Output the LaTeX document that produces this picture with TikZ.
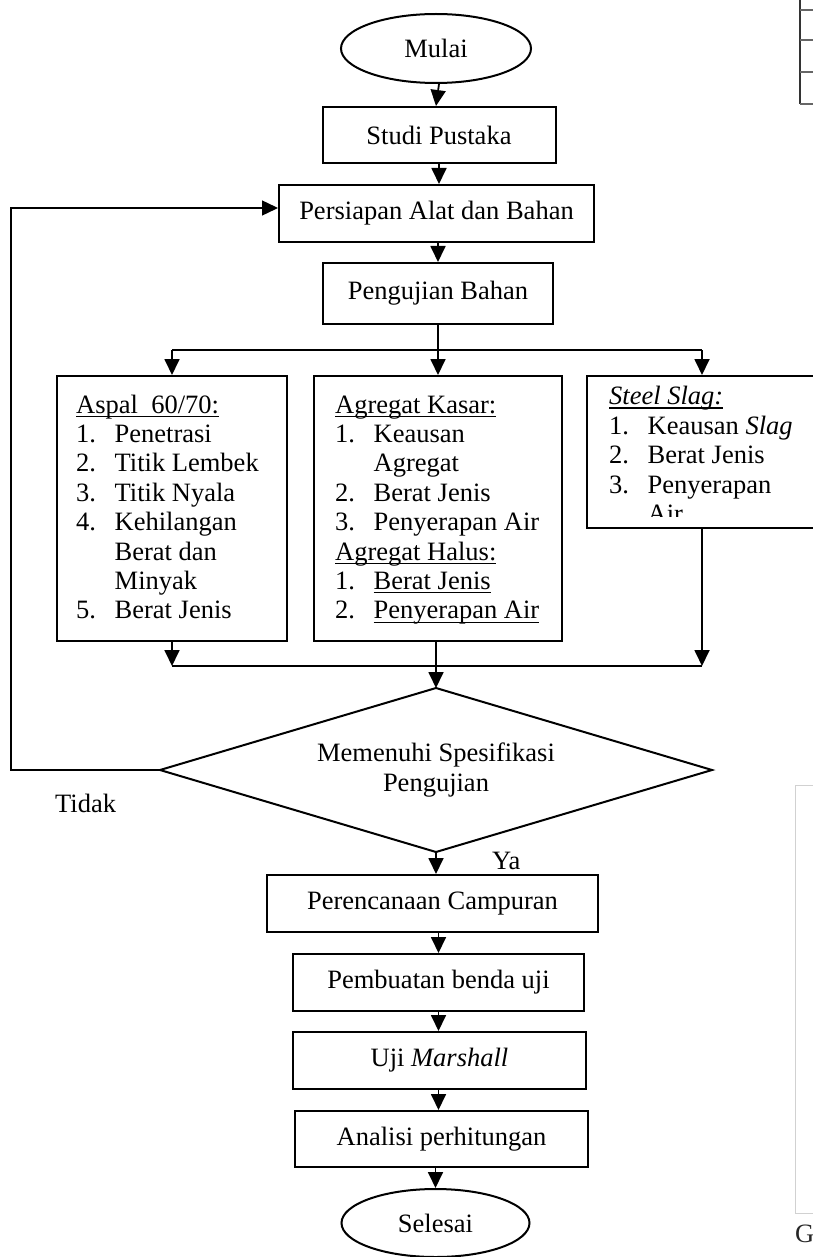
\documentclass[tikz,border=0pt]{standalone}
\usepackage{fontspec}
\setmainfont{Liberation Serif}
\usetikzlibrary{arrows.meta,shapes.geometric}
\newcommand\myul[1]{\setbox0\hbox{#1}\rlap{\rule[-4pt]{\wd0}{1.3pt}}\box0}
\newcommand\num[1]{\makebox[38.5pt][l]{#1}}
\begin{document}
\begin{tikzpicture}[x=1pt,y=-1pt,
  every node/.style={font=\fontsize{26.5}{29.5}\selectfont},
  box/.style={draw, line width=2pt, rectangle, inner sep=0pt},
  term/.style={draw, line width=2pt, ellipse, inner sep=0pt},
  arr/.style={line width=1.8pt, -{Triangle[width=15pt,length=16pt]}},
  ln/.style={line width=1.8pt},
  thinln/.style={line width=1.4pt},
  item/.style={anchor=base west, inner sep=0pt},
]
\useasboundingbox (0,0) rectangle (813,1257);
% main column
\node[term, minimum width=190pt, minimum height=69pt] (mulai) at (436,48.5) {Mulai};
\node[box, minimum width=233pt, minimum height=56pt] (studi) at (439,135) {Studi Pustaka};
\node[box, minimum width=315pt, minimum height=57pt] (persiapan) at (436.5,213.5) {Persiapan Alat dan Bahan};
\node[box, minimum width=230pt, minimum height=61pt] (uji) at (438,293.5) {Pengujian Bahan};
% three test boxes
\node[box, minimum width=230pt, minimum height=265pt] (aspal) at (172,508.5) {};
\node[box, minimum width=248pt, minimum height=265pt] (agregat) at (438,508.5) {};
\node[box, minimum width=230pt, minimum height=152pt] (steel) at (702,452) {};
% decision
\coordinate (decT) at (436,688);
\coordinate (decB) at (436,852);
\coordinate (decL) at (160,770);
\coordinate (decR) at (712,770);
\draw[line width=2pt, line join=miter] (decT) -- (decR) -- (decB) -- (decL) -- cycle;
\node[align=center, inner sep=0pt] (dec) at (436,770) {Memenuhi Spesifikasi\\Pengujian};
% lower column
\node[box, minimum width=331pt, minimum height=57pt] (perenc) at (432.5,903.5) {Perencanaan Campuran};
\node[box, minimum width=291pt, minimum height=57pt] (pemb) at (438.5,982.5) {Pembuatan benda uji};
\node[box, minimum width=293pt, minimum height=57pt] (marsh) at (439.5,1060.5) {Uji \textit{Marshall}};
\node[box, minimum width=293pt, minimum height=56pt] (anal) at (441.5,1139) {Analisi perhitungan};
\node[term, minimum width=188pt, minimum height=68pt] (selesai) at (435.5,1223) {Selesai};
% list texts: Aspal
\node[item] (a0) at (76,413) {\myul{Aspal\ \ 60/70:}};
\node[item] (a1) at (76,442.4) {\num{1.}Penetrasi};
\node[item] (a2) at (76,471.8) {\num{2.}Titik Lembek};
\node[item] (a3) at (76,501.2) {\num{3.}Titik Nyala};
\node[item] (a4) at (76,530.6) {\num{4.}Kehilangan};
\node[item] (a5) at (76,560) {\num{}Berat dan};
\node[item] (a6) at (76,589.4) {\num{}Minyak};
\node[item] (a7) at (76,618.8) {\num{5.}Berat Jenis};
% Agregat
\node[item] (g0) at (335,413) {\myul{Agregat Kasar:}};
\node[item] (g1) at (335,442.4) {\num{1.}Keausan};
\node[item] (g2) at (335,471.8) {\num{}Agregat};
\node[item] (g3) at (335,501.2) {\num{2.}Berat Jenis};
\node[item] (g4) at (335,530.6) {\num{3.}Penyerapan Air};
\node[item] (g5) at (335,560) {\myul{Agregat Halus:}};
\node[item] (g6) at (335,589.4) {\num{1.}\myul{Berat Jenis}};
\node[item] (g7) at (335,618.8) {\num{2.}\myul{Penyerapan Air}};
% Steel slag
\node[item] (s0) at (609,404.5) {\myul{\textit{Steel Slag:}}};
\node[item] (s1) at (609,434) {\num{1.}Keausan \textit{Slag}};
\node[item] (s2) at (609,463.5) {\num{2.}Berat Jenis};
\node[item] (s3) at (609,493) {\num{3.}Penyerapan};
\begin{scope}
\clip (590,380) rectangle (813,516);
\node[item] (s4) at (609,522.5) {\num{}Air};
\end{scope}
% labels
\node[item] (tidak) at (55,812) {Tidak};
\node[item] (ya) at (492,869) {Ya};
% connectors
\coordinate (br) at (438,350);
\coordinate (brL) at (172,350);
\coordinate (brR) at (702,350);
\coordinate (mL) at (172,666);
\coordinate (mR) at (702,666);
\coordinate (fbB) at (11,770);
\coordinate (fbT) at (11,208);
\draw[arr] (mulai.south -| studi.north) -- (studi.north -| mulai.south);
\draw[arr] (studi.south) -- (studi.south |- persiapan.north);
\draw[arr] (uji.north |- persiapan.south) -- (uji.north);
\draw[ln] (uji.south) -- (br);
\draw[thinln] (brL) -- (brR);
\draw[arr] (brL) -- (aspal.north);
\draw[arr] (br) -- (agregat.north);
\draw[arr] (brR) -- (steel.north);
\draw[arr] (aspal.south) -- (mL);
\draw[arr] (steel.south) -- (mR);
\draw[thinln] (mL) -- (mR);
\draw[arr] (agregat.south -| decT) -- (decT);
\draw[thinln, -{Triangle[width=15pt,length=16pt]}] (decL) -- (fbB) -- (fbT) -- (persiapan.west |- fbT);
\draw[arr] (decB) -- (decB |- perenc.north);
\draw[arr] (pemb.north |- perenc.south) -- (pemb.north);
\draw[arr] (pemb.south) -- (pemb.south |- marsh.north);
\draw[arr] (pemb.south |- marsh.south) -- (pemb.south |- anal.north);
\draw[arr] (selesai.north |- anal.south) -- (selesai.north);
% page fragments at the right edge
\draw[line width=1.2pt, black!80] (800,0) -- (800,104);
\foreach \yy in {10,40,72,104} \draw[line width=1.4pt, black!60] (800,\yy) -- (813,\yy);
\draw[line width=1pt, black!18] (830,785) -- (795,785) -- (795,1213) -- (830,1213);
\node[item, text=black!85] (G) at (795,1242) {G};
\end{tikzpicture}
\end{document}
